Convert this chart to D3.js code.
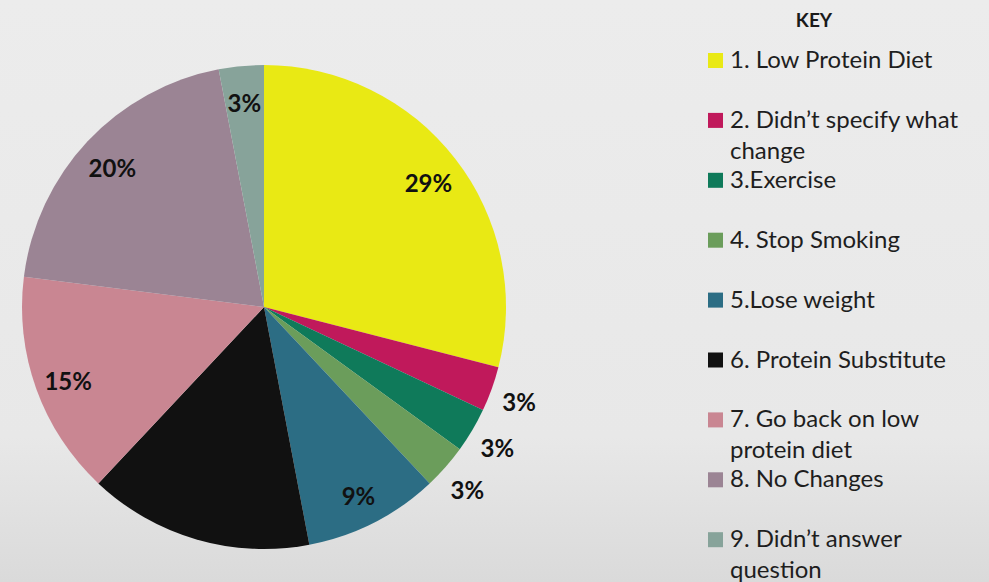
<!DOCTYPE html>
<html>
<head>
<meta charset="utf-8">
<script src="https://cdn.jsdelivr.net/npm/d3@7"></script>
<style>
  html, body { margin: 0; padding: 0; }
  body { width: 989px; height: 582px; overflow: hidden; }
  svg { display: block; font-family: Lato, "Open Sans", sans-serif; }
</style>
</head>
<body>
<div id="chart"></div>
<script>
const width = 989;
const height = 582;

// chart data
const categories = [
    "1. Low Protein Diet",
    "2. Didn\u2019t specify what change",
    "3.Exercise",
    "4. Stop Smoking",
    "5.Lose weight",
    "6. Protein Substitute",
    "7. Go back on low protein diet",
    "8. No Changes",
    "9. Didn\u2019t answer question"
];
const legendLines = [
    ["1. Low Protein Diet"],
    ["2. Didn\u2019t specify what", "change"],
    ["3.Exercise"],
    ["4. Stop Smoking"],
    ["5.Lose weight"],
    ["6. Protein Substitute"],
    ["7. Go back on low", "protein diet"],
    ["8. No Changes"],
    ["9. Didn\u2019t answer", "question"]
];
const percents = [29, 3, 3, 3, 9, 15, 15, 20, 3];
const colors = ["#e9e914", "#c0195b", "#0f7a5a", "#6b9d5b", "#2c6d84",
                "#111111", "#c98692", "#9b8494", "#87a39a"];
// slices whose labels sit outside the pie
const outsideLabels = [1, 2, 3];

const cx = 264, cy = 307, radius = 242;

let svg = d3.select("#chart").append("svg")
    .attr("width", width)
    .attr("height", height);

// slide background, slightly darker at the bottom
let grad = svg.append("defs").append("linearGradient")
    .attr("id", "bg")
    .attr("x1", 0).attr("y1", 0).attr("x2", 0).attr("y2", 1);
grad.append("stop").attr("offset", "0%").attr("stop-color", "#ececec");
grad.append("stop").attr("offset", "75%").attr("stop-color", "#e8e8e8");
grad.append("stop").attr("offset", "100%").attr("stop-color", "#dadada");
svg.append("rect")
    .attr("width", width)
    .attr("height", height)
    .attr("fill", "url(#bg)");

let pie = d3.pie().sort(null).value(function (d) { return d });
let arcs = pie(percents);
let arc = d3.arc().innerRadius(0).outerRadius(radius);
let innerLabelArc = d3.arc().innerRadius(radius * 0.86).outerRadius(radius * 0.86);
let outerLabelArc = d3.arc().innerRadius(radius * 1.12).outerRadius(radius * 1.12);

let g = svg.append("g").attr("transform", "translate(" + cx + "," + cy + ")");

g.selectAll("path")
    .data(arcs)
    .enter().append("path")
    .attr("d", arc)
    .attr("fill", function (d, i) { return colors[i] });

g.selectAll("text")
    .data(arcs)
    .enter().append("text")
    .attr("transform", function (d, i) {
        let a = outsideLabels.includes(i) ? outerLabelArc : innerLabelArc;
        return "translate(" + a.centroid(d) + ")";
    })
    .attr("text-anchor", "middle")
    .attr("dy", "0.52em")
    .attr("font-size", 24)
    .attr("font-weight", "bold")
    .attr("fill", "#111")
    .text(function (d) { return d.data + "%" });

// legend
let legend = svg.append("g").attr("class", "legend");

legend.append("text")
    .attr("x", 814)
    .attr("y", 27)
    .attr("text-anchor", "middle")
    .attr("font-size", 19)
    .attr("font-weight", "bold")
    .attr("fill", "#1a1a1a")
    .text("KEY");

let items = legend.selectAll("g.item")
    .data(categories)
    .enter().append("g")
    .attr("class", "item")
    .attr("transform", function (d, i) { return "translate(708," + (68 + i * 59.9) + ")" });

items.append("rect")
    .attr("x", 0)
    .attr("y", -15)
    .attr("width", 15)
    .attr("height", 15)
    .attr("fill", function (d, i) { return colors[i] });

items.append("text")
    .attr("x", 22)
    .attr("y", 0)
    .attr("font-size", 24)
    .attr("fill", "#1e1e1e")
    .each(function (d, i) {
        d3.select(this).selectAll("tspan")
            .data(legendLines[i])
            .enter().append("tspan")
            .attr("x", 22)
            .attr("dy", function (t, j) { return j === 0 ? 0 : 31 })
            .text(function (t) { return t });
    });
</script>
</body>
</html>
